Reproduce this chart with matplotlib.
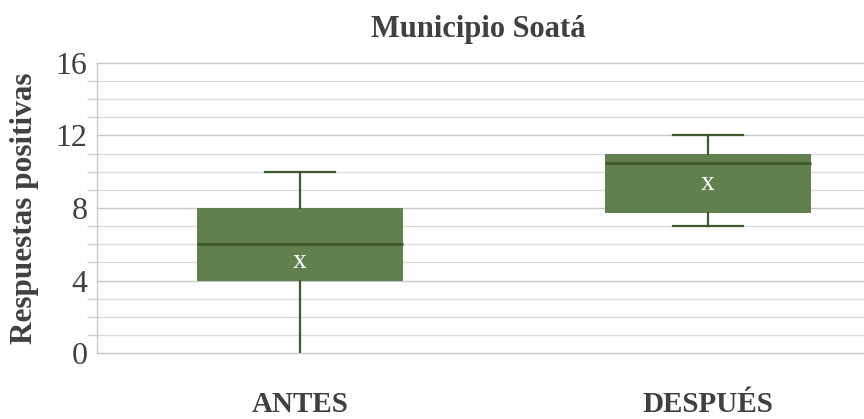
import matplotlib.pyplot as plt
from matplotlib.ticker import MultipleLocator

plt.rcParams['font.family'] = ['Liberation Serif', 'DejaVu Serif']

# resumen de las respuestas positivas por momento
categorias = ['ANTES', 'DESPUÉS']
minimos = [0, 7]
q1 = [4, 7.75]
medianas = [6, 10.5]
q3 = [8, 11]
maximos = [10, 12]
medias = [5.05, 9.35]

verde = '#627f4e'
verde_osc = '#3f5a2d'
gris_txt = '#404040'

fig = plt.figure(figsize=(8.64, 4.19), dpi=100)
ax = fig.add_axes([97 / 864, 1 - 353.3 / 419, 1 - 97 / 864, (353.3 - 62.7) / 419])

stats = []
for i, cat in enumerate(categorias):
    stats.append(dict(label=cat, whislo=minimos[i], q1=q1[i], med=medianas[i],
                      q3=q3[i], whishi=maximos[i]))

pos = [1, 2]
bp = ax.bxp(stats, positions=pos, widths=0.505, showfliers=False, patch_artist=True,
            boxprops=dict(facecolor=verde, edgecolor=verde, linewidth=0),
            medianprops=dict(color=verde_osc, linewidth=2.2),
            whiskerprops=dict(color=verde_osc, linewidth=1.6),
            capprops=dict(color=verde_osc, linewidth=1.6),
            capwidths=0.17, zorder=3)

# el tope que cae sobre el eje horizontal queda tapado por el eje
for cap in bp['caps']:
    if cap.get_ydata()[0] == 0:
        cap.set_visible(False)

for p, m in zip(pos, medias):
    ax.text(p, m, 'x', color='white', fontsize=20, ha='center', va='center', zorder=5)

ax.set_xlim(1 - 203 / 408, 2 + 156 / 408)
ax.set_ylim(0, 16)
ax.yaxis.set_major_locator(MultipleLocator(4))
ax.yaxis.set_minor_locator(MultipleLocator(1))
ax.grid(axis='y', which='major', color='#c8c8c8', linewidth=1.0, zorder=0)
ax.grid(axis='y', which='minor', color='#dcdcdc', linewidth=1.0, zorder=0)
ax.set_axisbelow(True)
for gl in ax.get_ygridlines():
    gl.set_clip_on(False)

for s in ['top', 'right', 'bottom']:
    ax.spines[s].set_visible(False)
ax.spines['left'].set_color('#c8c8c8')
ax.spines['left'].set_linewidth(1.0)

ax.tick_params(axis='y', which='major', length=0, pad=7, labelsize=23, labelcolor=gris_txt)
ax.tick_params(axis='y', which='minor', length=7, color='#d0d0d0', width=1.0)
ax.set_xticks(pos)
ax.set_xticklabels(categorias, fontsize=21, fontweight='bold', color=gris_txt)
ax.tick_params(axis='x', length=0, pad=27)

ax.set_ylabel('Respuestas positivas', fontsize=22.5, fontweight='bold', color=gris_txt, labelpad=12)
fig.text(478 / 864, 1 - 37 / 419, 'Municipio Soatá', fontsize=22, fontweight='bold',
         color=gris_txt, ha='center', va='baseline')

fig.savefig('out.png', dpi=100)
